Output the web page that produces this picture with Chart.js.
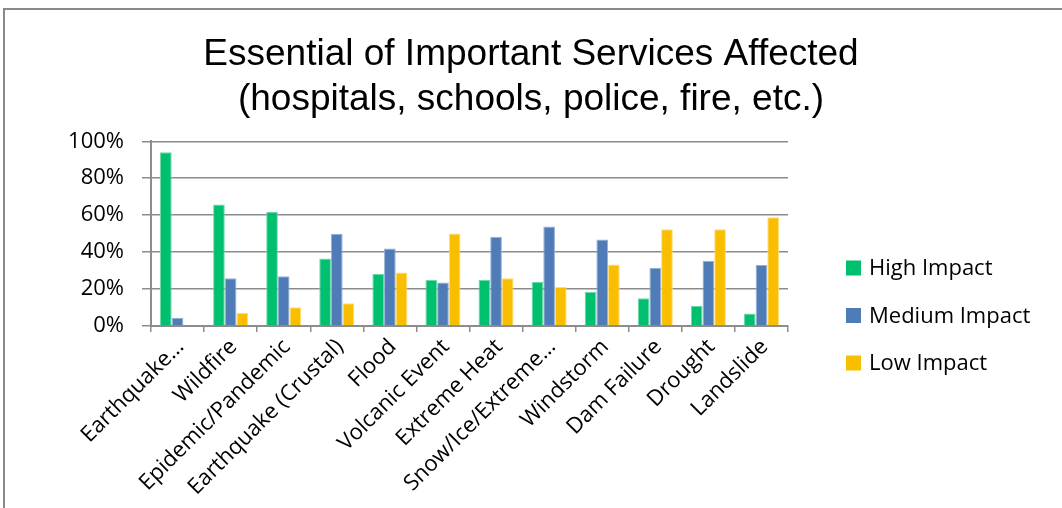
<!DOCTYPE html>
<html>
<head>
<meta charset="utf-8">
<script src="https://cdn.jsdelivr.net/npm/chart.js@4"></script>
<style>
  html, body { margin: 0; padding: 0; background: #fff; }
  #wrap { position: relative; width: 1062px; height: 508px; overflow: hidden; }
  #frame { position: absolute; left: 3px; top: 8px; right: -4px; bottom: -4px; border-left: 2px solid #8a8a8a; border-top: 2px solid #8a8a8a; }
  canvas { position: absolute; left: 0; top: 0; }
</style>
</head>
<body>
<div id="wrap">
  <div id="frame"></div>
  <canvas id="impactChart" width="1062" height="508"></canvas>
</div>
<script>
'use strict';

const CATEGORIES = ['Earthquake…', 'Wildfire', 'Epidemic/Pandemic', 'Earthquake (Crustal)', 'Flood',
    'Volcanic Event', 'Extreme Heat', 'Snow/Ice/Extreme…', 'Windstorm', 'Dam Failure', 'Drought', 'Landslide'];
const HIGH_IMPACT   = [94.1, 65.8, 61.8, 36.6, 28.1, 25.0, 24.9, 24.0, 18.4, 15.0, 11.0, 6.8];
const MEDIUM_IMPACT = [4.5, 25.9, 27.0, 49.9, 42.0, 23.6, 48.3, 53.9, 46.8, 31.4, 35.3, 33.0];
const LOW_IMPACT    = [0.4, 7.0, 10.1, 12.3, 29.0, 50.1, 25.8, 21.1, 33.3, 52.4, 52.4, 58.9];
const Y_TICKS = [0, 20, 40, 60, 80, 100];

const COLORS = {
    high:   { fill: '#00bf6f', edge: '#6ddba6' },
    medium: { fill: '#4f7cb6', edge: '#93b0d6' },
    low:    { fill: '#fabe00', edge: '#ffdd77' },
};

Chart.defaults.font.family = "'Open Sans', sans-serif";
Chart.defaults.color = '#000';

const GRID = '#8c8c8c';

// legend drawn at the right, vertically centred on the whole figure like the original
const sideLegend = {
    id: 'sideLegend',
    afterDraw(chart) {
        const ctx = chart.ctx;
        ctx.save();
        ctx.font = "22px 'Open Sans', sans-serif";
        ctx.textBaseline = 'middle';
        ctx.textAlign = 'left';
        chart.data.datasets.forEach((ds, i) => {
            const y = 268 + i * 47.5;
            ctx.fillStyle = ds.backgroundColor;
            ctx.fillRect(846, y - 7.5, 15, 15);
            ctx.fillStyle = '#000';
            ctx.fillText(ds.label, 869, y + 1);
        });
        ctx.restore();
    }
};

const ctx = document.getElementById('impactChart').getContext('2d');
new Chart(ctx, {
    type: 'bar',
    data: {
        labels: CATEGORIES,
        datasets: [
            { label: 'High Impact',   data: HIGH_IMPACT,   backgroundColor: COLORS.high.fill,   borderColor: COLORS.high.edge,   borderWidth: 1 },
            { label: 'Medium Impact', data: MEDIUM_IMPACT, backgroundColor: COLORS.medium.fill, borderColor: COLORS.medium.edge, borderWidth: 1 },
            { label: 'Low Impact',    data: LOW_IMPACT,    backgroundColor: COLORS.low.fill,    borderColor: COLORS.low.edge,    borderWidth: 1 },
        ]
    },
    options: {
        responsive: false,
        animation: false,
        layout: { padding: { left: 0, right: 0, top: 0, bottom: 0 } },
        datasets: { bar: { barPercentage: 1, categoryPercentage: 0.66 } },
        plugins: {
            legend: { display: false },
            tooltip: { enabled: false },
            title: {
                display: true,
                text: ['Essential of Important Services Affected', '(hospitals, schools, police, fire, etc.)'],
                color: '#000',
                font: { family: "'Liberation Sans', Arial, sans-serif", size: 37, weight: 'normal', lineHeight: 1.22 },
                padding: { top: 32, bottom: 19 }
            }
        },
        scales: {
            x: {
                grid: { offset: true, drawOnChartArea: false, color: GRID, lineWidth: 1.5, tickLength: 6 },
                border: { color: GRID, width: 2 },
                ticks: { font: { size: 22 }, color: '#000', minRotation: 45, maxRotation: 45, autoSkip: false, padding: 2, labelOffset: 3 },
                afterFit: s => { s.height = 182; }
            },
            y: {
                min: 0, max: 100,
                afterBuildTicks: s => { s.ticks = Y_TICKS.map(v => ({ value: v })); },
                grid: { color: GRID, lineWidth: 1.5, tickLength: 9 },
                border: { color: GRID, width: 2 },
                ticks: { font: { size: 22 }, color: '#000', padding: 18, callback: v => v + '%' },
                afterFit: s => { s.width = 151; }
            },
            // empty right-hand axis that reserves room for the legend
            side: {
                position: 'right',
                display: true,
                grid: { display: false },
                border: { display: false },
                ticks: { display: false },
                afterFit: s => { s.width = 274; }
            }
        }
    },
    plugins: [sideLegend]
});
</script>
</body>
</html>
